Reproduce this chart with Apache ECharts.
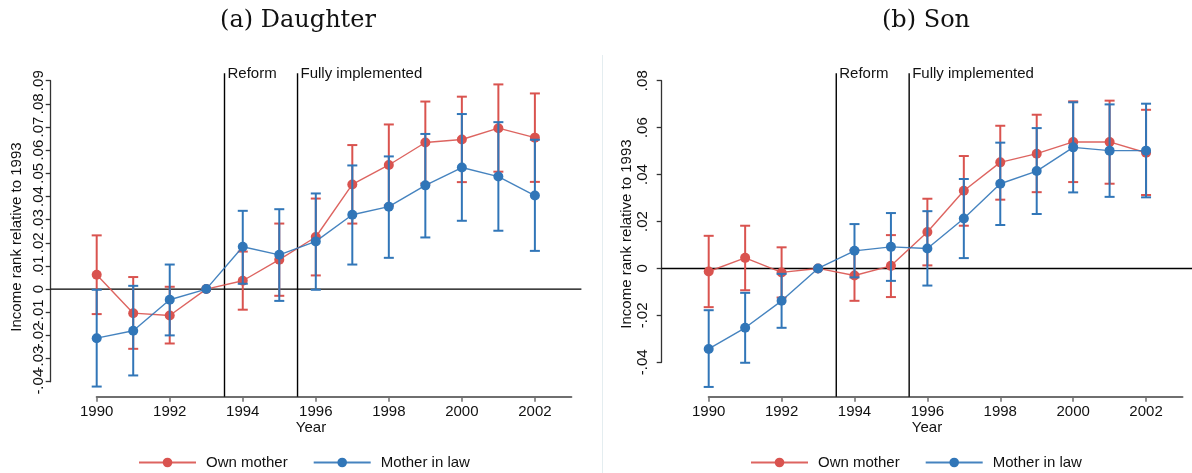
<!DOCTYPE html>
<html>
<head>
<meta charset="UTF-8"/>
<title>Income rank relative to 1993</title>
<script src="https://cdn.jsdelivr.net/npm/echarts@6/dist/echarts.min.js"></script>
<style>
  html, body { margin: 0; padding: 0; background: #fff; }
  #chart { width: 1192px; height: 473px; }
</style>
</head>
<body>
<div id="chart"></div>
<script type="text/javascript">
// years and tick labels
var years = [1990, 1991, 1992, 1993, 1994, 1995, 1996, 1997, 1998, 1999, 2000, 2001, 2002];
var yearTicks = [1990, 1992, 1994, 1996, 1998, 2000, 2002];
// left panel labels are packed tight, split over two axes so none get hidden
var daughterTicksEven = [-0.04, -0.02, 0, 0.02, 0.04, 0.06, 0.08];
var daughterTicksOdd = [-0.03, -0.01, 0.01, 0.03, 0.05, 0.07, 0.09];
var sonTicks = [-0.04, -0.02, 0, 0.02, 0.04, 0.06, 0.08];
var refYears = [1993.5, 1995.5];
var refLabels = ['Reform', 'Fully implemented'];

// (a) Daughter
var daughterOwn   = [0.0062, -0.0104, -0.0114, 0, 0.0036, 0.0127, 0.0225, 0.0452, 0.0536, 0.0633, 0.0646, 0.0695, 0.0654];
var daughterOwnLo = [-0.0108, -0.0258, -0.0235, null, -0.0089, -0.0029, 0.0059, 0.0283, 0.0361, 0.0456, 0.0462, 0.0507, 0.0463];
var daughterOwnHi = [0.0232, 0.0052, 0.0010, null, 0.0162, 0.0283, 0.0391, 0.0622, 0.0711, 0.0810, 0.0831, 0.0884, 0.0845];
var daughterLaw   = [-0.0212, -0.0180, -0.0046, 0, 0.0183, 0.0148, 0.0206, 0.0321, 0.0356, 0.0448, 0.0525, 0.0486, 0.0404];
var daughterLawLo = [-0.0421, -0.0373, -0.0200, null, 0.0023, -0.0051, -0.0003, 0.0106, 0.0135, 0.0223, 0.0295, 0.0252, 0.0165];
var daughterLawHi = [-0.0003, 0.0014, 0.0106, null, 0.0338, 0.0345, 0.0413, 0.0534, 0.0573, 0.0670, 0.0756, 0.0721, 0.0645];

// (b) Son
var sonOwn   = [-0.0013, 0.0045, -0.0017, 0, -0.0030, 0.0011, 0.0155, 0.0331, 0.0452, 0.0489, 0.0539, 0.0539, 0.0493];
var sonOwnLo = [-0.0165, -0.0093, -0.0124, null, -0.0138, -0.0122, 0.0013, 0.0182, 0.0293, 0.0325, 0.0368, 0.0361, 0.0313];
var sonOwnHi = [0.0139, 0.0182, 0.0090, null, 0.0078, 0.0142, 0.0297, 0.0479, 0.0608, 0.0655, 0.0712, 0.0715, 0.0676];
var sonLaw   = [-0.0343, -0.0253, -0.0138, 0, 0.0075, 0.0092, 0.0085, 0.0213, 0.0361, 0.0415, 0.0516, 0.0502, 0.0502];
var sonLawLo = [-0.0505, -0.0402, -0.0253, null, -0.0038, -0.0053, -0.0073, 0.0044, 0.0185, 0.0232, 0.0324, 0.0305, 0.0303];
var sonLawHi = [-0.0178, -0.0104, -0.0023, null, 0.0189, 0.0236, 0.0244, 0.0381, 0.0536, 0.0598, 0.0708, 0.0699, 0.0702];

var RED = '#d9534f', BLUE = '#3176b8';
var FONT = '"Liberation Sans", Arial, sans-serif';

function fmtY(v) {
    if (Math.abs(v) < 1e-9) return '0';
    return (v < 0 ? '-' : '') + Math.abs(v).toFixed(2).replace(/^0/, '');
}

function pairs(vals) {
    return years.map(function (y, i) { return [y, vals[i]]; });
}
function bars(lo, hi) {
    var out = [];
    years.forEach(function (y, i) {
        if (lo[i] != null && hi[i] != null) out.push([y, lo[i], hi[i]]);
    });
    return out;
}

function errItem(params, api) {
    var x = api.value(0);
    var a = api.coord([x, api.value(1)]);
    var b = api.coord([x, api.value(2)]);
    var st = { stroke: api.visual('color'), lineWidth: 2 };
    var w = 5;
    return {
        type: 'group',
        children: [
            { type: 'line', shape: { x1: a[0], y1: a[1], x2: b[0], y2: b[1] }, style: st },
            { type: 'line', shape: { x1: a[0] - w, y1: a[1], x2: a[0] + w, y2: a[1] }, style: st },
            { type: 'line', shape: { x1: b[0] - w, y1: b[1], x2: b[0] + w, y2: b[1] }, style: st }
        ]
    };
}

// vertical reform lines + the zero line, extended to the axis lines like in stata
function refItem(xOff) {
    return function (params, api) {
        var cs = params.coordSys;
        var p = api.coord([api.value(0), 0]);
        return {
            type: 'group',
            children: [
                { type: 'line', shape: { x1: p[0], y1: cs.y - 7.5, x2: p[0], y2: cs.y + cs.height + xOff },
                  style: { stroke: '#000', lineWidth: 1.4 } },
                { type: 'text', x: p[0] + 3, y: cs.y - 7,
                  style: { text: refLabels[params.dataIndex], fill: '#111', font: '15px ' + FONT,
                           textAlign: 'left', textVerticalAlign: 'middle' } }
            ]
        };
    };
}
function zeroItem(yOff, ext) {
    return function (params, api) {
        var cs = params.coordSys;
        var p = api.coord([1990, 0]);
        return {
            type: 'line',
            shape: { x1: cs.x - yOff, y1: p[1], x2: cs.x + cs.width + ext, y2: p[1] },
            style: { stroke: '#000', lineWidth: 1.4 }
        };
    };
}

function panelSeries(idx, own, ownLo, ownHi, law, lawLo, lawHi, xOff, yOff, ext) {
    return [
        { type: 'custom', xAxisIndex: idx, yAxisIndex: idx, silent: true, z: 1,
          renderItem: zeroItem(yOff, ext), data: [[1990, 0]], clip: false },
        { type: 'custom', xAxisIndex: idx, yAxisIndex: idx, silent: true, z: 1,
          renderItem: refItem(xOff), data: refYears.map(function (r) { return [r, 0]; }), clip: false },
        { name: 'Own mother', type: 'line', xAxisIndex: idx, yAxisIndex: idx, z: 2,
          data: pairs(own), symbol: 'circle', symbolSize: 10, clip: false,
          itemStyle: { color: RED }, lineStyle: { color: RED, width: 1.4, opacity: 0.9 } },
        { name: 'Own mother', type: 'custom', xAxisIndex: idx, yAxisIndex: idx, z: 3,
          renderItem: errItem, data: bars(ownLo, ownHi), encode: { x: 0, y: [1, 2] },
          itemStyle: { color: RED }, clip: false },
        { name: 'Mother in law', type: 'line', xAxisIndex: idx, yAxisIndex: idx, z: 4,
          data: pairs(law), symbol: 'circle', symbolSize: 10, clip: false,
          itemStyle: { color: BLUE }, lineStyle: { color: BLUE, width: 1.4, opacity: 0.9 } },
        { name: 'Mother in law', type: 'custom', xAxisIndex: idx, yAxisIndex: idx, z: 5,
          renderItem: errItem, data: bars(lawLo, lawHi), encode: { x: 0, y: [1, 2] },
          itemStyle: { color: BLUE }, clip: false }
    ];
}

function xAxisCfg(idx, off) {
    return {
        type: 'value', gridIndex: idx, min: 1990, max: 2003, interval: 2, offset: off,
        splitLine: { show: false },
        axisLine: { onZero: false, lineStyle: { color: '#6f6f6f', width: 2 } },
        axisTick: { length: 5, customValues: yearTicks, lineStyle: { color: '#6f6f6f', width: 1.5 } },
        axisLabel: { customValues: yearTicks, margin: 8, color: '#111', fontSize: 15, fontFamily: FONT,
                     formatter: function (v) { return String(v); } }
    };
}
function yAxisCfg(idx, min, max, step, off, margin, labels, showLine) {
    return {
        type: 'value', gridIndex: idx, position: 'left', min: min, max: max, interval: step, offset: off,
        splitLine: { show: false },
        axisLine: { show: showLine, onZero: false, lineStyle: { color: '#333', width: 1.3 } },
        axisTick: { show: showLine, length: 5, lineStyle: { color: '#333', width: 1.3 } },
        axisLabel: { rotate: 90, margin: margin, color: '#111', fontSize: 15, fontFamily: FONT,
                     customValues: labels, formatter: fmtY }
    };
}
function legendCfg(left) {
    return {
        left: left, top: 455, padding: 0, itemWidth: 57, itemHeight: 12, itemGap: 25,
        data: ['Own mother', 'Mother in law'],
        textStyle: { color: '#111', fontSize: 15, fontFamily: FONT, padding: [0, 0, 0, 5] }
    };
}

var myChart = echarts.init(document.getElementById('chart'));
var option = {
    animation: false,
    backgroundColor: '#fff',
    title: [
        { text: '(a) Daughter', left: 293, top: 4, textAlign: 'center',
          textStyle: { fontFamily: '"DejaVu Serif", serif', fontWeight: 'normal', fontSize: 24, color: '#111' } },
        { text: '(b) Son', left: 921, top: 4, textAlign: 'center',
          textStyle: { fontFamily: '"DejaVu Serif", serif', fontWeight: 'normal', fontSize: 24, color: '#111' } }
    ],
    legend: [legendCfg(138), legendCfg(750)],
    grid: [
        { left: 96.7, top: 80.7, width: 474.7, height: 301, outerBoundsMode: 'none' },
        { left: 708.7, top: 80.7, width: 473.8, height: 281.6, outerBoundsMode: 'none' }
    ],
    xAxis: [xAxisCfg(0, 15), xAxisCfg(1, 34.4)],
    yAxis: [
        yAxisCfg(0, -0.04, 0.09, 0.01, 46, 4, daughterTicksEven, true),
        yAxisCfg(1, -0.04, 0.08, 0.02, 47, 11, sonTicks, true),
        yAxisCfg(0, -0.04, 0.09, 0.01, 46, 4, daughterTicksOdd, false)
    ],
    graphic: [
        { type: 'line', shape: { x1: 602.5, y1: 55, x2: 602.5, y2: 473 }, style: { stroke: '#e4edf0', lineWidth: 1 } },
        { type: 'text', x: 311, y: 428, style: { text: 'Year', font: '15px ' + FONT, fill: '#111', textAlign: 'center', textVerticalAlign: 'middle' } },
        { type: 'text', x: 927, y: 428, style: { text: 'Year', font: '15px ' + FONT, fill: '#111', textAlign: 'center', textVerticalAlign: 'middle' } },
        { type: 'text', x: 17, y: 237, rotation: Math.PI / 2,
          style: { text: 'Income rank relative to 1993', font: '15px ' + FONT, fill: '#111', textAlign: 'center', textVerticalAlign: 'middle' } },
        { type: 'text', x: 627, y: 234, rotation: Math.PI / 2,
          style: { text: 'Income rank relative to 1993', font: '15px ' + FONT, fill: '#111', textAlign: 'center', textVerticalAlign: 'middle' } }
    ],
    series: [].concat(
        panelSeries(0, daughterOwn, daughterOwnLo, daughterOwnHi, daughterLaw, daughterLawLo, daughterLawHi, 15, 46, 10),
        panelSeries(1, sonOwn, sonOwnLo, sonOwnHi, sonLaw, sonLawLo, sonLawHi, 34.4, 47, 12)
    )
};
myChart.setOption(option, true);
</script>
</body>
</html>
